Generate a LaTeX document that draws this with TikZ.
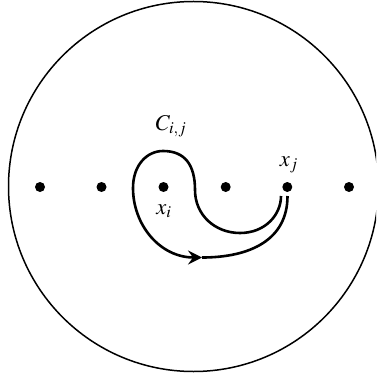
\documentclass[tikz,border=0pt]{standalone}
\usepackage{mathptmx}
\usetikzlibrary{arrows.meta}
\begin{document}
\begin{tikzpicture}[x=1pt,y=-1pt,
  dot/.style={circle,fill=black,inner sep=0pt,minimum size=10pt},
  curve/.style={line width=2.6pt},
  lbl/.style={font=\fontsize{22.5}{27}\selectfont,inner sep=0pt}]
\useasboundingbox (0,0) rectangle (376,379);
\begin{scope}
\clip (0,0) rectangle (376,379);
\draw[line width=1.5pt] (193.5,186.5) circle[radius=185];
\end{scope}
\node[dot] (p1) at (40,187) {};
\node[dot] (p2) at (101.5,187) {};
\node[dot] (xi) at (163.5,187) {};
\node[dot] (p4) at (225.7,187) {};
\node[dot] (xj) at (287.3,187) {};
\node[dot] (p6) at (349,187) {};
\node[lbl] (lc) at (171,126) {$C_{i,j}$};
\node[lbl] (lj) at (289,165) {$x_j$};
\node[lbl] (li) at (164,211) {$x_i$};
\coordinate (s) at (281,196);
\coordinate (m) at (202,257.5);
\coordinate (e) at (287.5,196);
\draw[curve,-{Stealth[length=14pt,width=14pt,inset=5pt]}] (s)
  .. controls (281,215) and (265,233) .. (240,233)
  .. controls (215,233) and (195,215) .. (195,190)
  .. controls (195,165) and (185,151) .. (163,151)
  .. controls (147,151) and (133,165) .. (133,188)
  .. controls (133,225) and (160,257.5) .. (m);
\draw[curve] (m) .. controls (250,257.5) and (287.5,240) .. (e);
\end{tikzpicture}
\end{document}
